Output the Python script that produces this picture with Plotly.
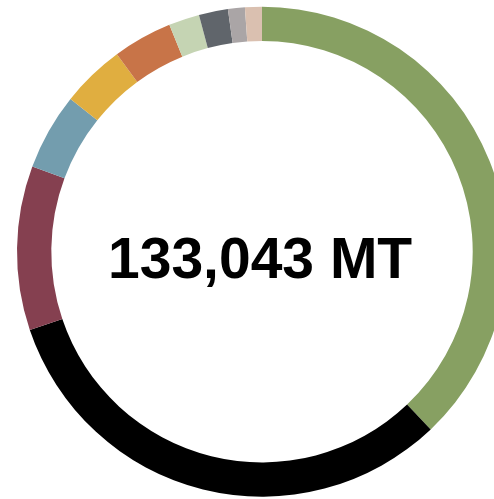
import plotly.graph_objects as go

labels = ["Segment A", "Segment B", "Segment C", "Segment D", "Segment E",
          "Segment F", "Segment G", "Segment H", "Segment I", "Segment J"]
values = [50440, 42460, 14410, 6730, 5580, 5210, 2700, 2550, 1480, 1480]
colors = ["#87A062", "#000000", "#854050", "#739DAE", "#E0AE40",
          "#C87448", "#C5D4B3", "#60656B", "#AAA5A6", "#DAC0B0"]
center_text = "133,043 MT"

W, H = 524, 499
fig = go.Figure(go.Pie(
    labels=labels, values=values, hole=0.86, sort=False,
    direction="clockwise", rotation=0,
    marker=dict(colors=colors, line=dict(width=0)),
    textinfo="none", hoverinfo="label+value", showlegend=False,
    domain=dict(x=[0, 1], y=[0.0046, 0.9866]),
))
fig.add_annotation(text="<b>" + center_text + "</b>", x=259.5 / W, y=1 - 257.5 / H,
                   xref="paper", yref="paper", showarrow=False,
                   font=dict(family="Liberation Sans", size=57, color="#000000"),
                   xanchor="center", yanchor="middle")
fig.update_layout(width=W, height=H, margin=dict(l=0, r=0, t=0, b=0),
                  paper_bgcolor="white", plot_bgcolor="white")
fig.write_html("out.html", config={"displayModeBar": False},
               post_script="document.body.style.margin='0';document.body.style.overflow='hidden';")
